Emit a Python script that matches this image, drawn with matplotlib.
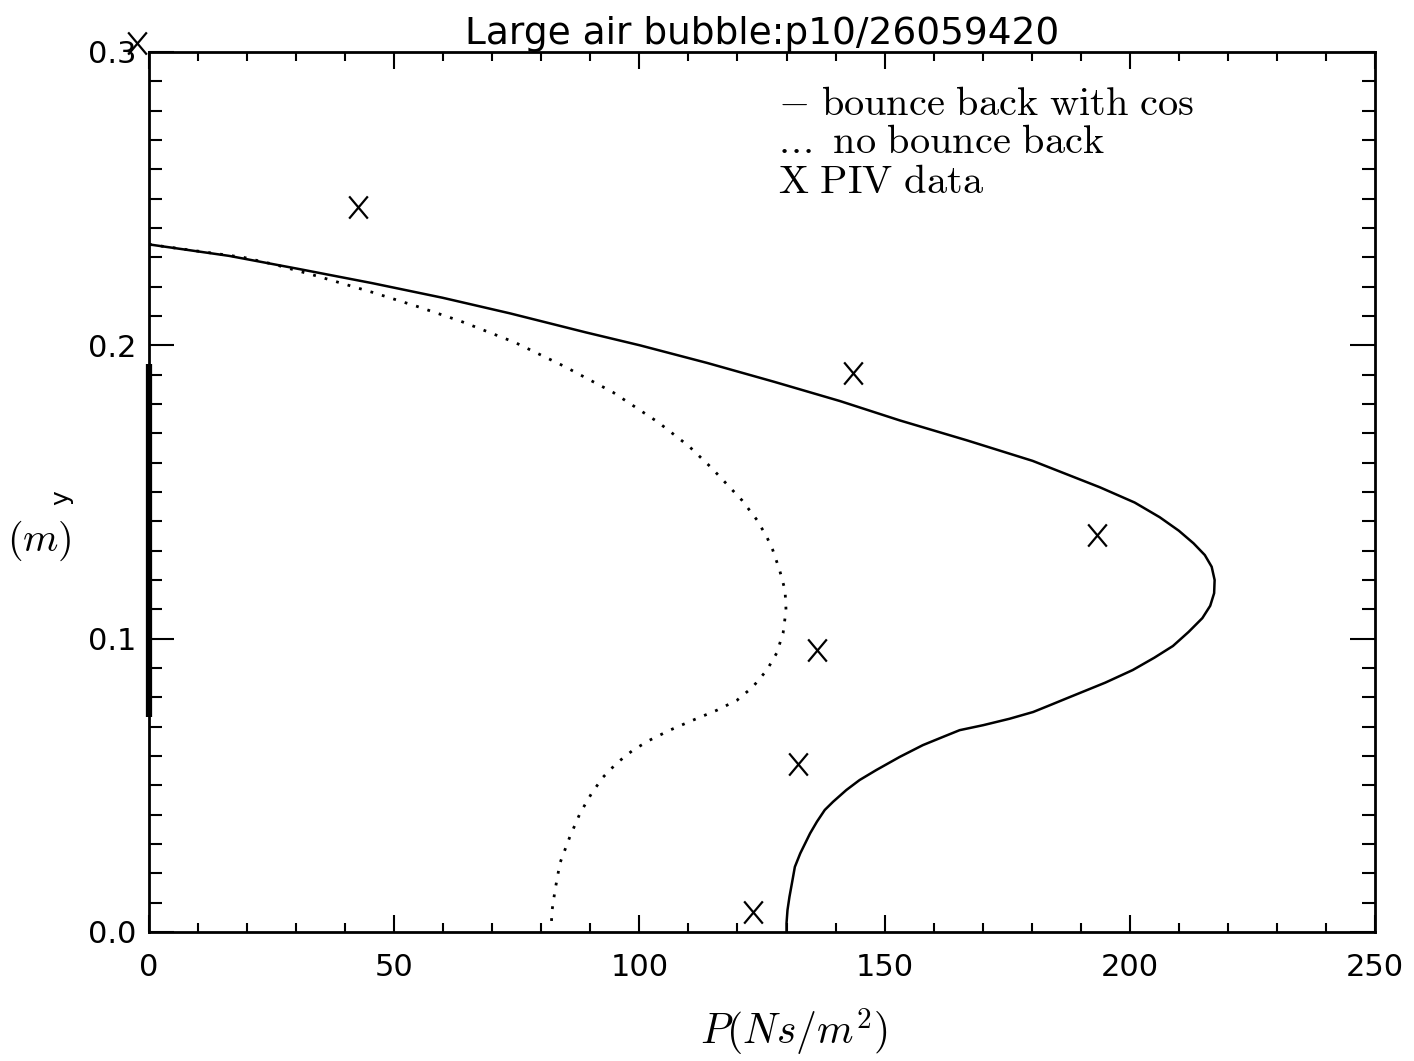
import matplotlib
matplotlib.use('Agg')
import matplotlib.pyplot as plt
from matplotlib.path import Path
import numpy as np

plt.rcParams['mathtext.fontset'] = 'cm'
plt.rcParams['font.family'] = 'DejaVu Sans'

# bounce back with cos (solid)
p_cos = [0, 16.3, 30.0, 45.5, 59.9, 73.6, 89.1, 100.1, 113.8, 127.4, 140.9, 153.1,
         166.8, 180.2, 193.9, 201.0, 206.1, 210.0, 213.0, 215.3, 216.7, 217.3,
         217.2, 216.4, 214.8, 212.0, 208.8, 205.0, 200.6, 195.0, 187.2, 183.7,
         180.3, 175.5, 170.1, 165.3, 161.9, 157.8, 153.1, 148.3, 144.9, 142.2,
         139.5, 137.8, 136.2, 134.8, 133.8, 132.8, 131.7, 131.1, 130.6, 130.2,
         130.0, 130.0]
y_cos = [0.2344, 0.2305, 0.2262, 0.2212, 0.2162, 0.2109, 0.2044, 0.2000, 0.1940,
         0.1876, 0.1810, 0.1744, 0.1676, 0.1606, 0.1516, 0.1464, 0.1414, 0.1368,
         0.1325, 0.1285, 0.1245, 0.1200, 0.1155, 0.1112, 0.1070, 0.1023, 0.0975,
         0.0935, 0.0893, 0.0850, 0.0797, 0.0773, 0.0750, 0.0727, 0.0705, 0.0688,
         0.0665, 0.0637, 0.0597, 0.0552, 0.0518, 0.0484, 0.0444, 0.0416, 0.0376,
         0.0336, 0.0302, 0.0268, 0.0222, 0.0166, 0.0120, 0.0075, 0.0030, 0.0]

# no bounce back (dotted)
p_nb = [0, 19.2, 25.5, 34.5, 45.5, 54.6, 63.6, 74.6, 84.6, 94.6, 103.8, 110.1,
        114.6, 120.9, 124.0, 126.0, 127.2, 128.6, 129.7, 129.9, 129.3, 128.0,
        126.0, 123.1, 119.9, 115.8, 110.9, 106.2, 102.1, 98.7, 95.4, 92.6,
        90.3, 87.9, 85.8, 83.8, 82.8, 82.2, 82.0]
y_nb = [0.2344, 0.2300, 0.2276, 0.2235, 0.2181, 0.2133, 0.2082, 0.2010, 0.1929,
        0.1840, 0.1738, 0.1656, 0.1584, 0.1472, 0.1404, 0.1346, 0.1302, 0.1233,
        0.1165, 0.1097, 0.1019, 0.0951, 0.0893, 0.0835, 0.0790, 0.0756, 0.0722,
        0.0688, 0.0654, 0.0620, 0.0576, 0.0528, 0.0474, 0.0405, 0.0324, 0.0235,
        0.0143, 0.0075, 0.0017]

# PIV data
p_piv = [-2.4, 42.6, 143.5, 193.3, 136.2, 132.3, 123.1]
y_piv = [0.3032, 0.2470, 0.1905, 0.1353, 0.0961, 0.0572, 0.0068]

# thick bar on the left axis
bar_y = [0.0734, 0.1935]

# letter-like X marker (a bit taller than wide)
x_mark = Path([(-0.42, -0.5), (0.42, 0.5), (0.42, -0.5), (-0.42, 0.5)],
              [Path.MOVETO, Path.LINETO, Path.MOVETO, Path.LINETO])

fig = plt.figure(figsize=(14.14, 10.61), dpi=100)
ax = fig.add_axes([0.1054, 0.1216, 0.8670, 0.8294])

ax.plot(p_cos, y_cos, color='black', lw=1.8, solid_joinstyle='round')
ax.plot(p_nb, y_nb, color='black', lw=2.0, linestyle=(0, (1, 3.3)))
ax.plot(p_piv, y_piv, linestyle='none', marker=x_mark, markersize=16,
        markeredgewidth=1.6, color='black', clip_on=False)
ax.plot([0, 0], bar_y, color='black', lw=4.5, solid_capstyle='butt', clip_on=False)

ax.set_xlim(0, 250)
ax.set_ylim(0, 0.3)
ax.set_xticks(np.arange(0, 251, 50))
ax.set_xticks(np.arange(0, 251, 10), minor=True)
ax.set_yticks([0.0, 0.1, 0.2, 0.3])
ax.set_yticklabels(['0.0', '0.1', '0.2', '0.3'])
ax.set_yticks(np.arange(0, 0.301, 0.01), minor=True)

for s in ax.spines.values():
    s.set_linewidth(2)
ax.tick_params(axis='both', which='both', direction='in', top=True, right=True,
               width=1.5, labelsize=22)
ax.tick_params(axis='x', which='major', length=12, pad=15)
ax.tick_params(axis='x', which='minor', length=6.5)
ax.tick_params(axis='y', which='major', length=18, pad=9)
ax.tick_params(axis='y', which='minor', length=9.4)
ax.tick_params(axis='x', labeltop=False)
ax.tick_params(axis='y', labelright=False)

ax.set_title('Large air bubble:p10/26059420', fontsize=27, pad=3)

# axis titles
fig.text(0.5615, 0.027, r'$P(Ns/m^2)$', fontsize=30, ha='center', va='center')
fig.text(0.028, 0.49, r'$(m)$', fontsize=29, ha='center', va='center')
fig.text(0.043, 0.531, 'y', fontsize=18, rotation=90, ha='center', va='center')

ax.text(128.2, 0.2784, r'$-\ \mathrm{bounce\ back\ with\ cos}$', fontsize=29, va='baseline')
ax.text(128.2, 0.2654, r'$\mathrm{.\!.\!.\ no\ bounce\ back}$', fontsize=29, va='baseline')
ax.text(128.2, 0.2518, r'$\mathrm{X\ PIV\ data}$', fontsize=29, va='baseline')

fig.savefig('out.png', dpi=100)
